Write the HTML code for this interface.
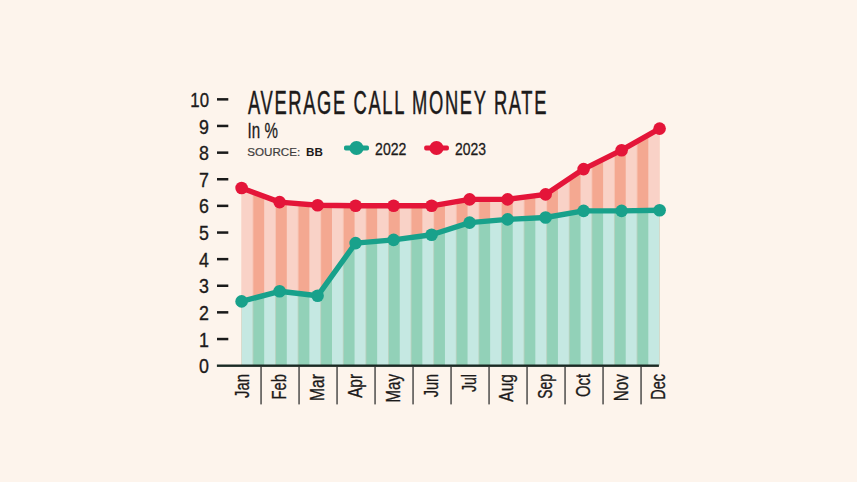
<!DOCTYPE html>
<html><head><meta charset="utf-8"><style>
html,body{margin:0;padding:0;background:#fdf4ec;}
svg{display:block;}
text{font-family:"Liberation Sans",sans-serif;fill:#1c1a1a;}
.num{font-size:21px;stroke:#1c1a1a;stroke-width:0.35px;}
.mon{font-size:21px;stroke:#1c1a1a;stroke-width:0.35px;}
</style></head><body>
<svg width="857" height="482" viewBox="0 0 857 482">
<defs>
<pattern id="pr" patternUnits="userSpaceOnUse" x="241.6" y="0" width="22.595" height="482">
<rect x="0" y="0" width="11.3" height="482" fill="#f9d2c7"/><rect x="11.297" y="0" width="11.3" height="482" fill="#f4a891"/>
</pattern>
<pattern id="pg" patternUnits="userSpaceOnUse" x="241.6" y="0" width="22.595" height="482">
<rect x="0" y="0" width="11.3" height="482" fill="#c5e8e2"/><rect x="11.297" y="0" width="11.3" height="482" fill="#92d1b8"/>
</pattern>
</defs>
<rect width="857" height="482" fill="#fdf4ec"/>
<polygon points="241.6,365.6 241.6,188.0 279.6,202.1 317.6,205.3 355.6,205.8 393.6,205.8 431.6,205.8 469.6,199.4 507.6,199.4 545.6,194.4 583.6,169.1 621.6,150.2 659.6,128.6 659.6,365.6" fill="url(#pr)"/>
<polygon points="241.6,365.6 241.6,301.4 279.6,291.3 317.6,295.8 355.6,243.1 393.6,239.9 431.6,234.8 469.6,222.6 507.6,219.4 545.6,217.5 583.6,210.9 621.6,210.9 659.6,210.3 659.6,365.6" fill="url(#pg)"/>
<rect x="216.9" y="364.5" width="442" height="2.4" fill="#1a2a24"/>
<text transform="translate(209,373.2) scale(0.85,1)" text-anchor="end" class="num">0</text><text transform="translate(209,346.6) scale(0.85,1)" text-anchor="end" class="num">1</text><rect x="217" y="337.8" width="11.3" height="2.5" fill="#1a1a1a"/><text transform="translate(209,319.9) scale(0.85,1)" text-anchor="end" class="num">2</text><rect x="217" y="311.1" width="11.3" height="2.5" fill="#1a1a1a"/><text transform="translate(209,293.3) scale(0.85,1)" text-anchor="end" class="num">3</text><rect x="217" y="284.5" width="11.3" height="2.5" fill="#1a1a1a"/><text transform="translate(209,266.7) scale(0.85,1)" text-anchor="end" class="num">4</text><rect x="217" y="257.9" width="11.3" height="2.5" fill="#1a1a1a"/><text transform="translate(209,240.1) scale(0.85,1)" text-anchor="end" class="num">5</text><rect x="217" y="231.3" width="11.3" height="2.5" fill="#1a1a1a"/><text transform="translate(209,213.4) scale(0.85,1)" text-anchor="end" class="num">6</text><rect x="217" y="204.6" width="11.3" height="2.5" fill="#1a1a1a"/><text transform="translate(209,186.8) scale(0.85,1)" text-anchor="end" class="num">7</text><rect x="217" y="178.0" width="11.3" height="2.5" fill="#1a1a1a"/><text transform="translate(209,160.2) scale(0.85,1)" text-anchor="end" class="num">8</text><rect x="217" y="151.4" width="11.3" height="2.5" fill="#1a1a1a"/><text transform="translate(209,133.5) scale(0.85,1)" text-anchor="end" class="num">9</text><rect x="217" y="124.7" width="11.3" height="2.5" fill="#1a1a1a"/><text transform="translate(209,106.9) scale(0.8,1)" text-anchor="end" class="num">10</text><rect x="217" y="98.1" width="11.3" height="2.5" fill="#1a1a1a"/>
<text transform="translate(248.7,374) rotate(-90) scale(0.707,1)" text-anchor="end" class="mon">Jan</text><rect x="260.4" y="366" width="1.3" height="38.4" fill="#333"/><text transform="translate(286.4,374) rotate(-90) scale(0.703,1)" text-anchor="end" class="mon">Feb</text><rect x="298.4" y="366" width="1.3" height="38.4" fill="#333"/><text transform="translate(324.4,374) rotate(-90) scale(0.744,1)" text-anchor="end" class="mon">Mar</text><rect x="336.4" y="366" width="1.3" height="38.4" fill="#333"/><text transform="translate(362.2,374) rotate(-90) scale(0.73,1)" text-anchor="end" class="mon">Apr</text><rect x="374.4" y="366" width="1.3" height="38.4" fill="#333"/><text transform="translate(399.7,374) rotate(-90) scale(0.72,1)" text-anchor="end" class="mon">May</text><rect x="412.4" y="366" width="1.3" height="38.4" fill="#333"/><text transform="translate(438.1,374) rotate(-90) scale(0.687,1)" text-anchor="end" class="mon">Jun</text><rect x="450.4" y="366" width="1.3" height="38.4" fill="#333"/><text transform="translate(476.0,374) rotate(-90) scale(0.673,1)" text-anchor="end" class="mon">Jul</text><rect x="488.4" y="366" width="1.3" height="38.4" fill="#333"/><text transform="translate(512.7,374) rotate(-90) scale(0.741,1)" text-anchor="end" class="mon">Aug</text><rect x="526.4" y="366" width="1.3" height="38.4" fill="#333"/><text transform="translate(552.0,374) rotate(-90) scale(0.66,1)" text-anchor="end" class="mon">Sep</text><rect x="564.4" y="366" width="1.3" height="38.4" fill="#333"/><text transform="translate(589.7,374) rotate(-90) scale(0.706,1)" text-anchor="end" class="mon">Oct</text><rect x="602.4" y="366" width="1.3" height="38.4" fill="#333"/><text transform="translate(627.7,374) rotate(-90) scale(0.73,1)" text-anchor="end" class="mon">Nov</text><rect x="640.4" y="366" width="1.3" height="38.4" fill="#333"/><text transform="translate(665.2,374) rotate(-90) scale(0.689,1)" text-anchor="end" class="mon">Dec</text>
<polyline points="241.6,188.0 279.6,202.1 317.6,205.3 355.6,205.8 393.6,205.8 431.6,205.8 469.6,199.4 507.6,199.4 545.6,194.4 583.6,169.1 621.6,150.2 659.6,128.6" fill="none" stroke="#e41539" stroke-width="5.4" stroke-linejoin="round"/>
<circle cx="241.6" cy="188.0" r="6.3" fill="#e41539"/><circle cx="279.6" cy="202.1" r="6.3" fill="#e41539"/><circle cx="317.6" cy="205.3" r="6.3" fill="#e41539"/><circle cx="355.6" cy="205.8" r="6.3" fill="#e41539"/><circle cx="393.6" cy="205.8" r="6.3" fill="#e41539"/><circle cx="431.6" cy="205.8" r="6.3" fill="#e41539"/><circle cx="469.6" cy="199.4" r="6.3" fill="#e41539"/><circle cx="507.6" cy="199.4" r="6.3" fill="#e41539"/><circle cx="545.6" cy="194.4" r="6.3" fill="#e41539"/><circle cx="583.6" cy="169.1" r="6.3" fill="#e41539"/><circle cx="621.6" cy="150.2" r="6.3" fill="#e41539"/><circle cx="659.6" cy="128.6" r="6.3" fill="#e41539"/>
<polyline points="241.6,301.4 279.6,291.3 317.6,295.8 355.6,243.1 393.6,239.9 431.6,234.8 469.6,222.6 507.6,219.4 545.6,217.5 583.6,210.9 621.6,210.9 659.6,210.3" fill="none" stroke="#18a18b" stroke-width="5.4" stroke-linejoin="round"/>
<circle cx="241.6" cy="301.4" r="6.3" fill="#18a18b"/><circle cx="279.6" cy="291.3" r="6.3" fill="#18a18b"/><circle cx="317.6" cy="295.8" r="6.3" fill="#18a18b"/><circle cx="355.6" cy="243.1" r="6.3" fill="#18a18b"/><circle cx="393.6" cy="239.9" r="6.3" fill="#18a18b"/><circle cx="431.6" cy="234.8" r="6.3" fill="#18a18b"/><circle cx="469.6" cy="222.6" r="6.3" fill="#18a18b"/><circle cx="507.6" cy="219.4" r="6.3" fill="#18a18b"/><circle cx="545.6" cy="217.5" r="6.3" fill="#18a18b"/><circle cx="583.6" cy="210.9" r="6.3" fill="#18a18b"/><circle cx="621.6" cy="210.9" r="6.3" fill="#18a18b"/><circle cx="659.6" cy="210.3" r="6.3" fill="#18a18b"/>
<text transform="translate(248,113.9) scale(0.565,1)" font-size="32.5" letter-spacing="2.9" stroke="#1c1a1a" stroke-width="0.5">AVERAGE CALL MONEY RATE</text>
<text x="247.6" y="138.3" font-size="21.5" textLength="30.3" lengthAdjust="spacingAndGlyphs" stroke="#1c1a1a" stroke-width="0.3">In %</text>
<text x="247.2" y="155.5" font-size="11.5" style="fill:#403d3d" stroke="#403d3d" stroke-width="0.2" textLength="53" lengthAdjust="spacingAndGlyphs">SOURCE:</text>
<text x="306" y="155.5" font-size="11.5" font-weight="bold" textLength="16.8" lengthAdjust="spacingAndGlyphs">BB</text>
<rect x="344" y="145.5" width="25" height="5" rx="1.8" fill="#18a18b"/><circle cx="356.5" cy="148" r="7" fill="#18a18b"/>
<text x="375.1" y="155.2" font-size="17.4" textLength="31.3" lengthAdjust="spacingAndGlyphs" stroke="#1c1a1a" stroke-width="0.3">2022</text>
<rect x="424.2" y="145.5" width="24.7" height="5" rx="1.8" fill="#e41539"/><circle cx="436.5" cy="148" r="7" fill="#e41539"/>
<text x="454.9" y="155.2" font-size="17.4" textLength="31" lengthAdjust="spacingAndGlyphs" stroke="#1c1a1a" stroke-width="0.3">2023</text>
</svg>
</body></html>
